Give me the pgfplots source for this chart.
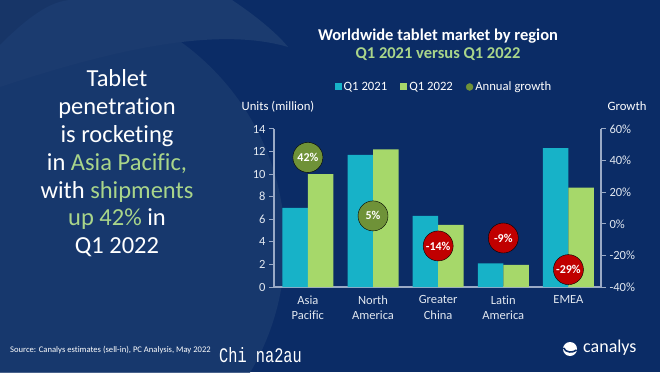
\documentclass[border=0pt]{standalone}
\usepackage{pgfplots}
\pgfplotsset{compat=1.18}
\usepackage{fontspec}
\setmainfont[Ligatures=NoCommon]{Carlito}
\newfontfamily\monofont{Liberation Mono}
\definecolor{bgc}{HTML}{0B2C66}
\definecolor{bglight}{HTML}{1B3B6F}
\definecolor{bgdark}{HTML}{081F4A}
\definecolor{tealc}{HTML}{17B2C8}
\definecolor{lgreen}{HTML}{A6D86A}
\definecolor{gcirc}{HTML}{6F9238}
\definecolor{rcirc}{HTML}{C00000}
\definecolor{tgreen}{HTML}{A9D58A}
\definecolor{axiscol}{HTML}{9AAAC6}
\definecolor{labc}{HTML}{E2E8F0}
\begin{document}
\begin{tikzpicture}[x=1pt,y=1pt]
\useasboundingbox (0,0) rectangle (660,372);
\begin{scope}
\clip (0,0) rectangle (660,372);
\fill[bgc] (0,0) rectangle (660,372);
\fill[bgdark] (0,372) -- (0,320) .. controls (25,350) and (50,372) .. (75,372) -- cycle;
\fill[bglight] (0,327) .. controls (25,352) and (50,372) .. (72,372) -- (232,372) .. controls (262,352) and (280,335) .. (288,325) .. controls (220,345) and (120,325) .. (0,285) -- cycle;
\fill[bglight, opacity=0.8] (35,127) circle (250);
\end{scope}
% left text
\node[align=center, font=\fontsize{24.5}{27.8}\selectfont, text=white] at (117,208.5) {Tablet\\penetration\\is rocketing\\in \textcolor{tgreen}{Asia Pacific,}\\with \textcolor{tgreen}{shipments}\\\textcolor{tgreen}{up 42\%} in\\Q1 2022};
% titles
\node[font=\fontsize{16.5}{19}\selectfont\bfseries, text=white] at (438,336) {Worldwide tablet market by region};
\node[font=\fontsize{16.5}{19}\selectfont\bfseries, text=tgreen] at (438,318) {Q1 2021 versus Q1 2022};
\node[font=\fontsize{12.7}{14}\selectfont, text=white] at (278,265) {Units (million)};
\node[font=\fontsize{12.7}{14}\selectfont, text=white] at (627,266) {Growth};
% source etc
\node[anchor=west, font=\fontsize{8.6}{11}\selectfont, text=white, inner sep=0pt] at (10,22) {Source: Canalys estimates (sell-in), PC Analysis, May 2022};
\node[anchor=west, font=\monofont\fontsize{15.3}{17}\selectfont, text=white, inner sep=0pt, yscale=1.35] at (219,17) {Chi na2au};
\node[anchor=west, font=\fontsize{18}{20}\selectfont, text=white, inner sep=0pt] at (583,24) {canalys};
\fill[white] (570,23) circle (7);
\draw[bgc, line width=1.6pt] (563.5,24) .. controls (566,19) and (573,19) .. (576.5,22);
\begin{axis}[
  at={(274pt,85pt)}, anchor=south west,
  scale only axis, width=327pt, height=158pt,
  xmin=-0.52, xmax=4.5, ymin=0, ymax=14,
  axis x line*=bottom, axis y line*=left,
  axis line style={axiscol, line width=1.2pt, -},
  xtick={0,1,2,3,4},
  xticklabels={Asia\\Pacific, North\\America, Greater\\China, Latin\\America, EMEA},
  xticklabel style={align=center, font=\fontsize{12.5}{15.5}\selectfont, text=labc},
  x tick style={draw=none},
  ytick={0,2,...,14},
  yticklabel style={font=\fontsize{12.5}{14}\selectfont, text=labc},
  /pgf/number format/assume math mode=true,
  y tick style={axiscol, line width=1pt},
  tick align=outside, major tick length=5pt,
  clip=false,
  legend style={at={(0.52,1.266)}, anchor=center, draw=none, fill=none, text=white,
    font=\fontsize{12.7}{14}\selectfont, legend columns=3,
    /tikz/every even column/.append style={column sep=11pt}},
  legend cell align=left,
]
\addplot[ybar, bar width=25.5pt, bar shift=-12.75pt, fill=tealc, draw=none,
  legend image code/.code={\fill[tealc] (0pt,-3.5pt) rectangle (7pt,3.5pt);}]
  coordinates {(0,7.0) (1,11.7) (2,6.3) (3,2.1) (4,12.3)};
\addlegendentry{Q1 2021}
\addplot[ybar, bar width=25.5pt, bar shift=12.75pt, fill=lgreen, draw=none,
  legend image code/.code={\fill[lgreen] (0pt,-3.5pt) rectangle (7pt,3.5pt);}]
  coordinates {(0,10.0) (1,12.2) (2,5.5) (3,1.95) (4,8.8)};
\addlegendentry{Q1 2022}
\addlegendimage{legend image code/.code={\fill[gcirc] (3.5pt,0pt) circle (3.5pt);}}
\addlegendentry{Annual growth}
\end{axis}
\begin{axis}[
  at={(274pt,85pt)}, anchor=south west,
  scale only axis, width=327pt, height=158pt,
  xmin=-0.52, xmax=4.5, ymin=-40, ymax=60,
  axis x line=none, axis y line*=right,
  axis line style={axiscol, line width=1.2pt, -},
  ytick={-40,-20,...,60},
  yticklabel={\pgfmathprintnumber{\tick}\%},
  yticklabel style={font=\fontsize{12.5}{14}\selectfont, text=labc},
  /pgf/number format/assume math mode=true,
  y tick style={axiscol, line width=1pt},
  tick align=outside, major tick length=5pt,
  clip=false,
]
\addplot[only marks, mark=*, mark size=15pt, mark options={fill=gcirc, draw=none},
  point meta=explicit symbolic, nodes near coords, nodes near coords align=center,
  every node near coord/.append style={anchor=center, text=white, font=\fontsize{12}{13}\selectfont\bfseries}]
  coordinates {(0,42) [42\%] (1,5) [5\%]};
\addplot[only marks, mark=*, mark size=15pt, mark options={fill=rcirc, draw=none},
  point meta=explicit symbolic, nodes near coords, nodes near coords align=center,
  every node near coord/.append style={anchor=center, text=white, font=\fontsize{12}{13}\selectfont\bfseries}]
  coordinates {(2,-14) [-14\%] (3,-9) [-9\%] (4,-29) [-29\%]};
\end{axis}
\end{tikzpicture}
\end{document}
